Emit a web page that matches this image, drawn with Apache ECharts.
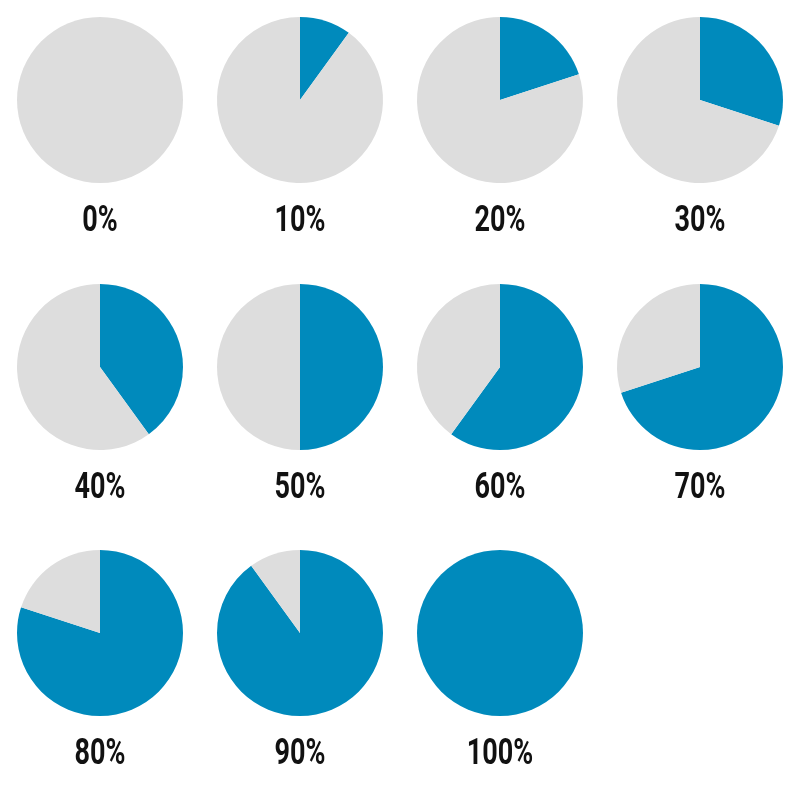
<!DOCTYPE html>
<html><head><meta charset="utf-8">
<script src="https://cdn.jsdelivr.net/npm/echarts@6/dist/echarts.min.js"></script>
<style>html,body{margin:0;padding:0;background:#fff}#c{width:800px;height:800px}</style>
</head><body><div id="c"></div>
<script>
const percents = [0, 10, 20, 30, 40, 50, 60, 70, 80, 90, 100];
const labels = ['0%', '10%', '20%', '30%', '40%', '50%', '60%', '70%', '80%', '90%', '100%'];
const colX = [100, 300, 500, 700];
const rowY = [100, 367, 633];
const chart = echarts.init(document.getElementById('c'));
const series = [], texts = [];
percents.forEach((p, i) => {
  const cx = colX[i % 4], cy = rowY[Math.floor(i / 4)];
  series.push({
    type: 'pie', center: [cx, cy], radius: [0, 83], startAngle: 90, clockwise: true,
    silent: true, animation: false, label: {show: false}, labelLine: {show: false},
    itemStyle: {borderWidth: 0},
    data: [
      {value: p, itemStyle: {color: '#008abc'}},
      {value: 100 - p, itemStyle: {color: '#dddddd'}}
    ]
  });
  texts.push({
    type: 'text', x: cx, y: cy + 122, scaleX: 0.75, silent: true,
    style: {text: labels[i], align: 'center', verticalAlign: 'middle',
      font: 'bold 36px Roboto, "DejaVu Sans Condensed", sans-serif', fill: '#111'}
  });
});
chart.setOption({animation: false, series: series, graphic: texts});
</script></body></html>
